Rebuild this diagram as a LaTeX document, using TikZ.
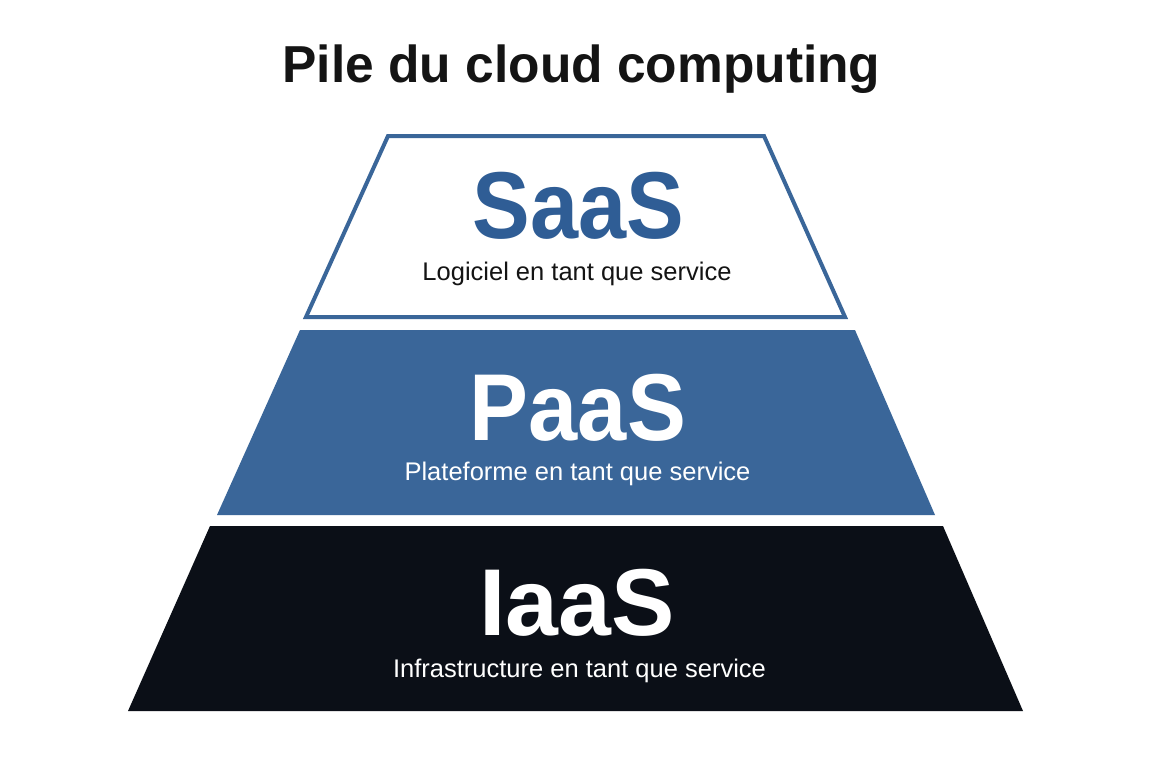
\documentclass[tikz,border=0pt]{standalone}
\usepackage{fontspec}
\setmainfont{Liberation Sans}
\usepackage{graphicx}
\definecolor{cblue}{HTML}{3A6699}
\definecolor{cbluetext}{HTML}{2F5D95}
\definecolor{cdark}{HTML}{0B0F17}
\definecolor{ctext}{HTML}{141414}
\begin{document}
\begin{tikzpicture}[x=1pt,y=-1pt,
  big/.style={anchor=base,inner sep=0pt,font=\fontsize{95}{95}\selectfont\bfseries},
  sub/.style={anchor=base,inner sep=0pt,font=\fontsize{25.5}{26}\selectfont},
  layer/.style={line join=miter}]
\useasboundingbox[fill=white] (0,0) rectangle (1152,768);
% title
\node[anchor=base,inner sep=0pt,font=\fontsize{52}{52}\selectfont\bfseries,text=ctext] (title) at (581.5,83) {\scalebox{0.99}[1]{Pile du cloud computing}};
% layers
\draw[layer,draw=cblue,line width=4pt,fill=white] (388,136) -- (764,136) -- (845,317) -- (306,317) -- cycle;
\fill[layer,cblue] (300,330) -- (855,330) -- (935,515) -- (217,515) -- cycle;
\fill[layer,cdark] (210,526) -- (943,526) -- (1023,711) -- (128,711) -- cycle;
% labels
\node[big,text=cbluetext] (saas) at (578.5,238) {\scalebox{0.91}[1]{SaaS}};
\node[sub,text=ctext] (saassub) at (577,280) {Logiciel en tant que service};
\node[big,text=white] (paas) at (578,440) {\scalebox{0.93}[1]{PaaS}};
\node[sub,text=white] (paassub) at (577.5,480) {Plateforme en tant que service};
\node[big,text=white] (iaas) at (577,635) {\scalebox{1.0}[1]{IaaS}};
\node[sub,text=white] (iaassub) at (579.5,677) {Infrastructure en tant que service};
\end{tikzpicture}
\end{document}
